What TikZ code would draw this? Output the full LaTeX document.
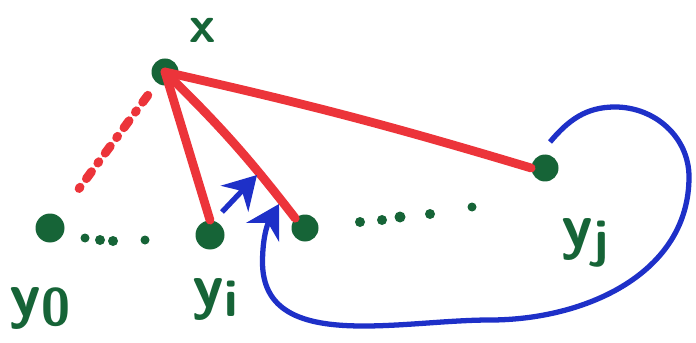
\documentclass[tikz,border=0pt]{standalone}
\definecolor{ink}{RGB}{22,100,55}
\definecolor{pen}{RGB}{236,52,58}
\definecolor{back}{RGB}{30,48,200}
\usetikzlibrary{arrows.meta,positioning}
\tikzset{
  vert/.style={circle,fill=ink,inner sep=0pt,minimum size=5.4mm},
  lbl/.style={text=ink,font=\fontsize{36}{38}\selectfont\sffamily\bfseries,inner sep=1pt,
              text height=0.9em,text depth=0.25em},
  link/.style={draw=pen,line width=5pt,line cap=round},
  hint/.style={link,dash pattern=on 5pt off 6pt on 1pt off 6pt},
  ret/.style={-{Stealth[length=6.5mm,width=7.5mm]},draw=back,line width=3pt},
  small/.style={fill=ink},
}
\newcommand{\sub}[1]{\raisebox{-0.3ex}{\fontsize{30}{32}\selectfont #1}}
\begin{document}
\begin{tikzpicture}[node distance=6mm and 6mm]
    \useasboundingbox (0,0) rectangle (13.92,6.84);
    \node[vert] (x) at (3.30,5.40) {};
    \node[vert,minimum size=5.8mm] (y0) at (1.00,2.28) {};
    \node[vert,minimum size=5.8mm] (yi) at (4.20,2.14) {};
    \node[vert] (yn) at (6.10,2.28) {};
    \node[vert] (yj) at (10.90,3.48) {};
    \node[lbl,font=\fontsize{30}{32}\selectfont\sffamily\bfseries] (xl) at (4.05,6.10) {x};
    \node[lbl] (y0l) at (0.80,0.62) {y\sub{0}};
    \node[lbl] (yil) at (4.30,0.80) {y\sub{i}};
    \node[lbl] (yjl) at (11.70,2.00) {y\sub{j}};
    % the dots between
    \foreach \px/\py/\r in {1.70/2.08/0.09,2.00/2.04/0.10,2.26/2.02/0.10,2.90/2.04/0.09}
      \fill[small] (\px,\py) circle (\r);
    \foreach \px/\py/\r in {7.20/2.40/0.10,7.64/2.44/0.10,8.00/2.50/0.11,8.60/2.56/0.10,9.44/2.70/0.09}
      \fill[small] (\px,\py) circle (\r);
    \draw[hint,shorten <=3mm,shorten >=6mm] (x) -- (y0);
    \draw[link] (x.center) -- (yi.north);
    \draw[link] (x.center) to[bend left=4] (yn.north west);
    \draw[link] (x.center) to[bend left=2] (yj.west);
    \coordinate (a0) at (4.44,2.60);
    \coordinate (a1) at (5.14,3.34);
    \coordinate (b0) at (11.00,4.00);
    \coordinate (b1) at (5.58,2.76);
    \draw[ret] (a0) -- (a1);
    \draw[ret] (b0) to[out=50,in=180] (12.30,4.70) to[out=0,in=90] (13.78,3.30)
      to[out=-90,in=0] (9.80,0.44) to[out=180,in=-90] (5.25,1.60) to[out=90,in=240] (b1);
\end{tikzpicture}
\end{document}
